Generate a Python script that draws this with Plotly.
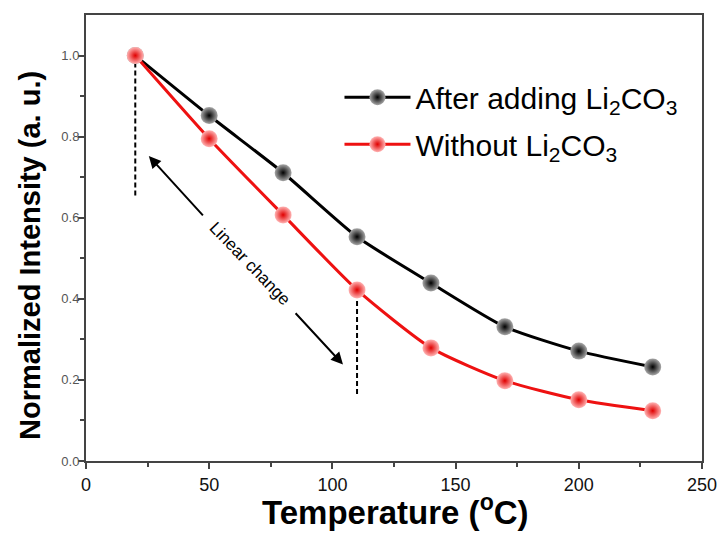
import plotly.graph_objects as go

temps = [20, 50, 80, 110, 140, 170, 200, 230]
after_li2co3 = [1.0, 0.852, 0.711, 0.553, 0.439, 0.331, 0.271, 0.232]
without_li2co3 = [1.0, 0.795, 0.607, 0.422, 0.279, 0.198, 0.151, 0.124]

x_ticks = [0, 50, 100, 150, 200, 250]
y_ticks = [0.0, 0.2, 0.4, 0.6, 0.8, 1.0]
y_tick_text = ["0.0", "0.2", "0.4", "0.6", "0.8", "1.0"]

FONT = "Arial, 'Liberation Sans', sans-serif"
AXC = "#444444"

fig = go.Figure()
fig.add_trace(go.Scatter(
    x=temps, y=after_li2co3, mode="lines+markers",
    name="After adding Li<sub>2</sub>CO<sub>3</sub>", legendgroup="a",
    line=dict(color="black", width=3, shape="spline", smoothing=0.6),
    marker=dict(size=17, color="#a8a8a8", gradient=dict(type="radial", color="#000000"),
                line=dict(width=0)),
))
fig.add_trace(go.Scatter(
    x=temps, y=without_li2co3, mode="lines+markers",
    name="Without Li<sub>2</sub>CO<sub>3</sub>", legendgroup="b",
    line=dict(color="#ee1111", width=3, shape="spline", smoothing=0.6),
    marker=dict(size=17, color="#ffb4b4", gradient=dict(type="radial", color="#e00000"),
                line=dict(width=0)),
))

# dashed vertical guides
fig.add_shape(type="line", x0=20, x1=20, y0=0.655, y1=1.0, xref="x", yref="y",
              line=dict(color="black", width=2, dash="5px,3px"), layer="below")
fig.add_shape(type="line", x0=110, x1=110, y0=0.165, y1=0.422, xref="x", yref="y",
              line=dict(color="black", width=2, dash="5px,3px"), layer="below")

# double arrow split by text
fig.add_annotation(x=25.5, y=0.752, ax=48.0, ay=0.602, xref="x", yref="y",
                   axref="x", ayref="y", showarrow=True, arrowhead=2, arrowsize=1.2,
                   arrowwidth=2, arrowcolor="black", text="")
fig.add_annotation(x=104.3, y=0.238, ax=84.5, ay=0.368, xref="x", yref="y",
                   axref="x", ayref="y", showarrow=True, arrowhead=2, arrowsize=1.2,
                   arrowwidth=2, arrowcolor="black", text="")
fig.add_annotation(x=66.4, y=0.487, xref="x", yref="y", text="Linear change",
                   showarrow=False, textangle=46,
                   font=dict(family=FONT, size=17, color="black"))

# axis titles as annotations for exact placement
fig.add_annotation(x=-0.091, y=0.462, xref="paper", yref="paper",
                   text="<b>Normalized Intensity (a. u.)</b>", showarrow=False,
                   textangle=-90, xanchor="center", yanchor="middle",
                   font=dict(family=FONT, size=29, color="black"))
fig.add_annotation(x=0.503, y=-0.11, xref="paper", yref="paper",
                   text="<b>Temperature (<sup>o</sup>C)</b>", showarrow=False,
                   xanchor="center", yanchor="middle",
                   font=dict(family=FONT, size=33, color="black"))

fig.update_layout(
    width=718, height=533,
    margin=dict(l=86, r=16, t=15, b=72),
    paper_bgcolor="white", plot_bgcolor="white",
    font=dict(family=FONT, color="black"),
    showlegend=True,
    legend=dict(x=0.4115, y=0.874, xanchor="left", yanchor="top",
                bgcolor="rgba(0,0,0,0)", font=dict(family=FONT, size=30, color="black"),
                tracegroupgap=5, itemwidth=66),
    xaxis=dict(range=[0, 250], tickvals=x_ticks, ticks="outside", ticklen=6, tickwidth=1.5,
               tickcolor=AXC, showline=True, linecolor=AXC, linewidth=2, mirror=True,
               showgrid=False, zeroline=False, automargin=False,
               tickfont=dict(family=FONT, size=18, color="#111111"),
               minor=dict(tickvals=[25, 75, 125, 175, 225], ticks="outside", ticklen=4,
                          tickcolor=AXC, tickwidth=1.5)),
    yaxis=dict(range=[0, 1.1], tickvals=y_ticks, ticktext=y_tick_text, ticks="outside",
               ticklen=6, tickwidth=1.5, tickcolor=AXC, showline=True, linecolor=AXC,
               linewidth=2, mirror=True, showgrid=False, zeroline=False, automargin=False,
               ticklabelstandoff=-4,
               tickfont=dict(family=FONT, size=13, color="#555555"),
               minor=dict(tickvals=[0.1, 0.3, 0.5, 0.7, 0.9], ticks="outside", ticklen=4,
                          tickcolor=AXC, tickwidth=1.5)),
)

fig.write_html("out.html", config={"displayModeBar": False},
               post_script="document.body.style.margin='0';document.body.style.overflow='hidden';")
